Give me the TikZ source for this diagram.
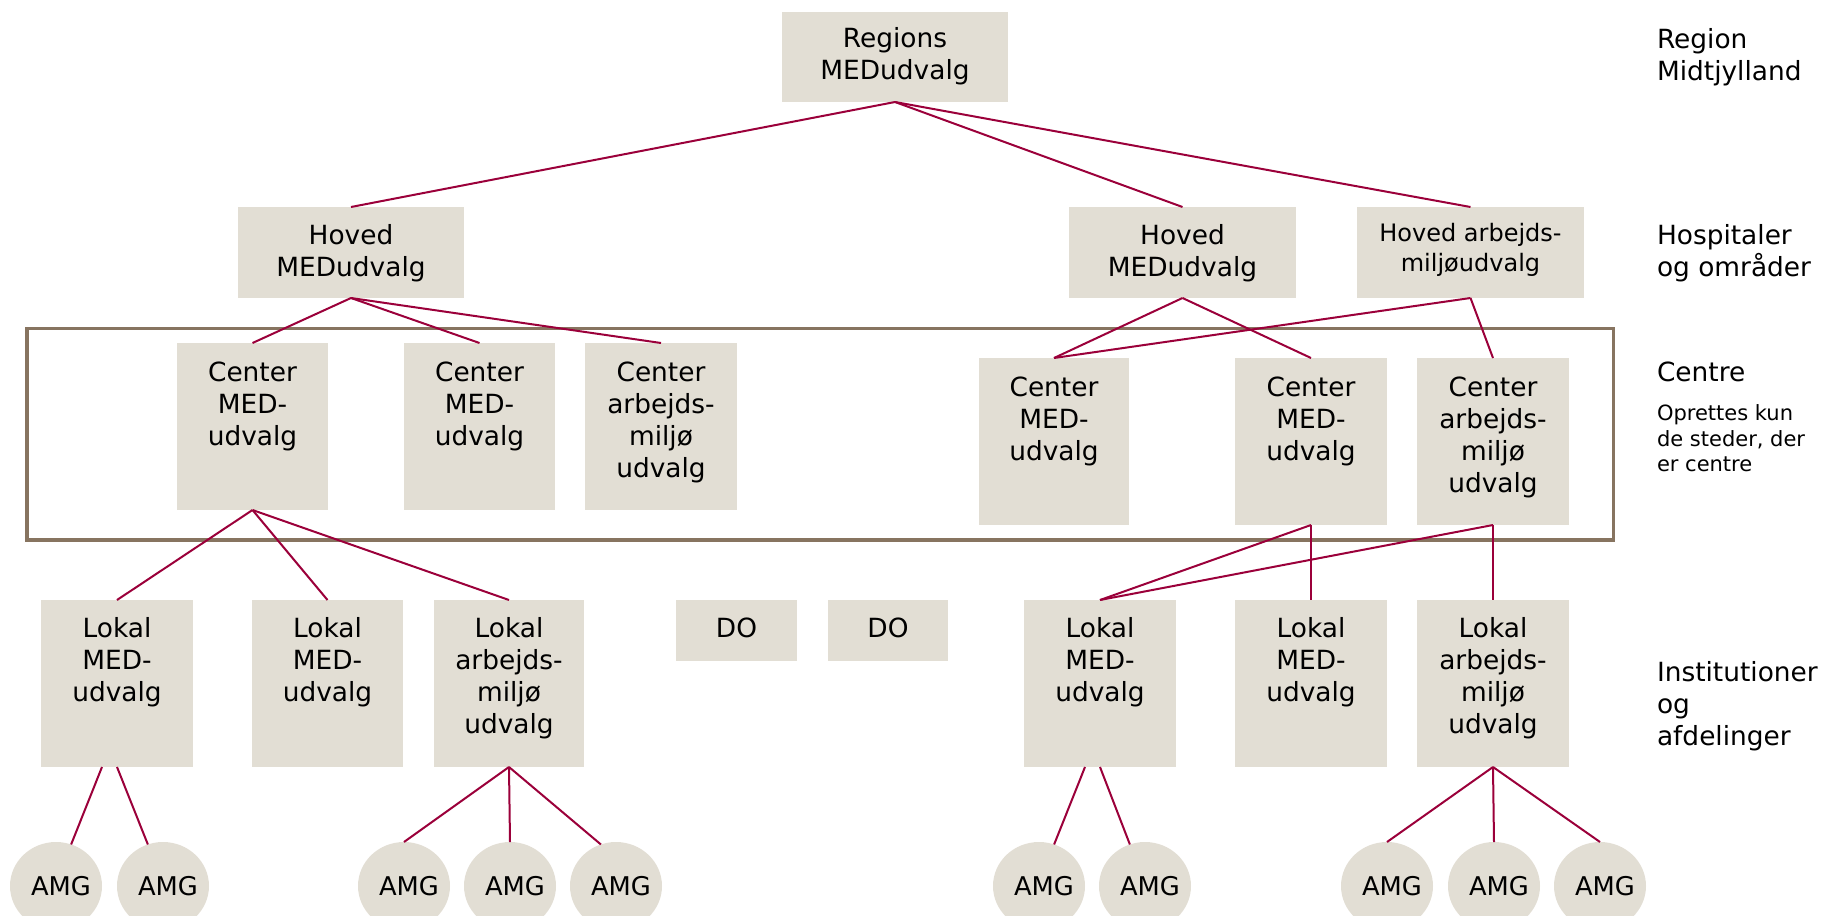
\documentclass[tikz,border=0pt]{standalone}
\usepackage{fontspec}
\setmainfont{DejaVu Sans}
\usetikzlibrary{shapes.geometric}
\newdimen\px \px=0.5pt
\newcommand\fmain{\fontsize{13.2pt}{16pt}\selectfont}
\newcommand\fsmall{\fontsize{10.5pt}{12.75pt}\selectfont}
\newcommand\fhav{\fontsize{12pt}{15pt}\selectfont}
\newcommand\famg{\fontsize{12.9pt}{15pt}\selectfont}
\newcommand\bt[4]{\parbox[t][#2\px][t]{#1\px}{\centering\rule{0pt}{#3\px}#4\par}}
\newcommand\lt[1]{\parbox[t]{165\px}{\raggedright #1}}
\newcommand\amgt{\makebox[0pt][c]{\hspace*{10\px}AMG}}
\definecolor{boxc}{RGB}{226,222,212}
\definecolor{linec}{RGB}{155,0,58}
\definecolor{framec}{RGB}{135,116,96}
\tikzset{
  box/.style={fill=boxc, inner sep=0pt, outer sep=0pt, anchor=north west, font=\fmain},
  amg/.style={ellipse, fill=boxc, minimum width=46pt, minimum height=44pt, inner sep=0pt, outer sep=0pt, font=\famg},
  lbl/.style={anchor=base west, inner sep=0pt, outer sep=0pt, font=\fmain},
  conn/.style={draw=linec, line width=1pt},
  frame/.style={draw=framec, line width=1.75pt}
}
\begin{document}
\begin{tikzpicture}[x=0.5pt, y=-0.5pt]
\useasboundingbox (0,0) rectangle (1827,916);
% frame around centre level
\draw[frame] (27,328.5) rectangle (1613.5,540);
% top
\node[box] (R) at (782,12) {\bt{226}{90}{35.5}{Regions\\MEDudvalg}};
% hospital level
\node[box] (H1) at (238,207) {\bt{226}{91}{37.5}{Hoved\\MEDudvalg}};
\node[box] (H2) at (1069,207) {\bt{227}{91}{37.5}{Hoved\\MEDudvalg}};
\node[box, font=\fhav] (H3) at (1357,207) {\bt{227}{91}{34.5}{Hoved arbejds-\\miljøudvalg}};
% centre level
\node[box] (C1) at (177,343) {\bt{151}{167}{38}{Center\\MED-\\udvalg}};
\node[box] (C2) at (404,343) {\bt{151}{167}{38}{Center\\MED-\\udvalg}};
\node[box] (C3) at (585,343) {\bt{152}{167}{38}{Center\\arbejds-\\miljø\\udvalg}};
\node[box] (C4) at (979,358) {\bt{150}{167}{38}{Center\\MED-\\udvalg}};
\node[box] (C5) at (1235,358) {\bt{152}{167}{38}{Center\\MED-\\udvalg}};
\node[box] (C6) at (1417,358) {\bt{152}{167}{38}{Center\\arbejds-\\miljø\\udvalg}};
% local level
\node[box] (L1) at (41,600) {\bt{152}{167}{37.5}{Lokal\\MED-\\udvalg}};
\node[box] (L2) at (252,600) {\bt{151}{167}{37.5}{Lokal\\MED-\\udvalg}};
\node[box] (L3) at (434,600) {\bt{150}{167}{37.5}{Lokal\\arbejds-\\miljø\\udvalg}};
\node[box] (D1) at (676,600) {\bt{121}{61}{37.5}{DO}};
\node[box] (D2) at (828,600) {\bt{120}{61}{37.5}{DO}};
\node[box] (L4) at (1024,600) {\bt{152}{167}{37.5}{Lokal\\MED-\\udvalg}};
\node[box] (L5) at (1235,600) {\bt{152}{167}{37.5}{Lokal\\MED-\\udvalg}};
\node[box] (L6) at (1417,600) {\bt{152}{167}{37.5}{Lokal\\arbejds-\\miljø\\udvalg}};
% AMG
\node[amg] (A1) at (56,886) {\amgt};
\node[amg] (A2) at (163,886) {\amgt};
\node[amg] (A3) at (404,886) {\amgt};
\node[amg] (A4) at (510,886) {\amgt};
\node[amg] (A5) at (616,886) {\amgt};
\node[amg] (A6) at (1039,886) {\amgt};
\node[amg] (A7) at (1145,886) {\amgt};
\node[amg] (A8) at (1387,886) {\amgt};
\node[amg] (A9) at (1494,886) {\amgt};
\node[amg] (A10) at (1600,886) {\amgt};
% right labels
\node[lbl] (T1) at (1657,48.5) {\lt{Region\\Midtjylland}};
\node[lbl] (T2) at (1657,244.5) {\lt{Hospitaler\\og områder}};
\node[lbl] (T3) at (1657,381) {\lt{Centre}};
\node[lbl, font=\fsmall] (T4) at (1657,420.5) {\lt{Oprettes kun\\de steder, der\\er centre}};
\node[lbl] (T5) at (1657,681) {\lt{Institutioner\\og\\afdelinger}};
% connectors
\draw[conn] (R.south) -- (H1.north);
\draw[conn] (R.south) -- (H2.north);
\draw[conn] (R.south) -- (H3.north);
\draw[conn] (H1.south) -- (C1.north);
\draw[conn] (H1.south) -- (C2.north);
\draw[conn] (H1.south) -- (C3.north);
\draw[conn] (H2.south) -- (C4.north);
\draw[conn] (H2.south) -- (C5.north);
\draw[conn] (H3.south) -- (C4.north);
\draw[conn] (H3.south) -- (C6.north);
\draw[conn] (C1.south) -- (L1.north);
\draw[conn] (C1.south) -- (L2.north);
\draw[conn] (C1.south) -- (L3.north);
\draw[conn] (C5.south) -- (L4.north);
\draw[conn] (C5.south) -- (L5.north);
\draw[conn] (C6.south) -- (L4.north);
\draw[conn] (C6.south) -- (L6.north);
\draw[conn] ([xshift=-7.5pt]L1.south) -- (A1.70);
\draw[conn] (L1.south) -- (A2.110);
\draw[conn] (L3.south) -- (A3.north);
\draw[conn] (L3.south) -- (A4.north);
\draw[conn] (L3.south) -- (A5.110);
\draw[conn] ([xshift=-7.5pt]L4.south) -- (A6.70);
\draw[conn] (L4.south) -- (A7.110);
\draw[conn] (L6.south) -- (A8.north);
\draw[conn] (L6.south) -- (A9.north);
\draw[conn] (L6.south) -- (A10.north);
\end{tikzpicture}
\end{document}
